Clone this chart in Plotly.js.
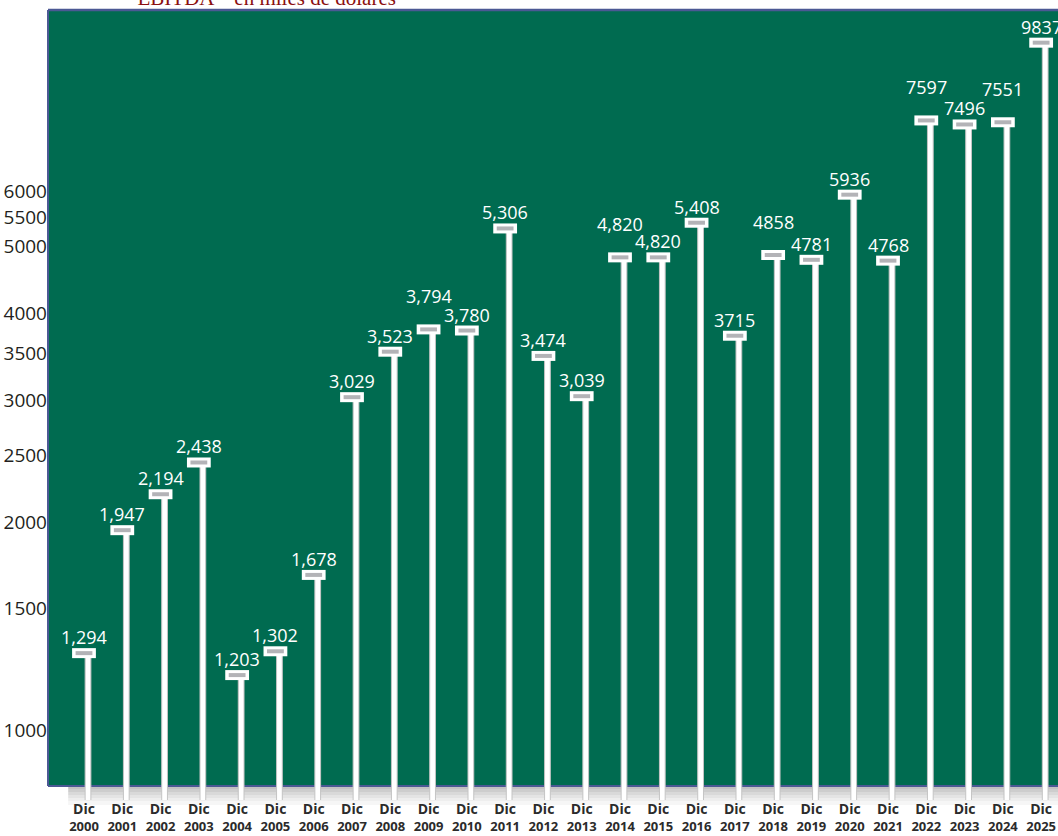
<!DOCTYPE html>
<html>
<head>
<meta charset="utf-8">
<script src="https://cdn.plot.ly/plotly-3.0.1.min.js"></script>
<style>
  html, body { margin: 0; padding: 0; background: #ffffff; }
  #chart { width: 1058px; height: 836px; }
</style>
</head>
<body>
<div id="chart"></div>
<script>
// ---- data ----
const categories = ['2000','2001','2002','2003','2004','2005','2006','2007','2008','2009',
                    '2010','2011','2012','2013','2014','2015','2016','2017','2018','2019',
                    '2020','2021','2022','2023','2024','2025'];
const monthLabel = 'Dic';
const ebitda = [1294, 1947, 2194, 2438, 1203, 1302, 1678, 3029, 3523, 3794,
                3780, 5306, 3474, 3039, 4820, 4820, 5408, 3715, 4858, 4781,
                5936, 4768, 7597, 7496, 7551, 9837];
const valueLabels = ['1,294','1,947','2,194','2,438','1,203','1,302','1,678','3,029','3,523','3,794',
                     '3,780','5,306','3,474','3,039','4,820','4,820','5,408','3715','4858','4781',
                     '5936','4768','7597','7496','7551','9837'];
const yTickVals = [1000, 1500, 2000, 2500, 3000, 3500, 4000, 5000, 5500, 6000];
const yTickText = ['1000','1500','2000','2500','3000','3500','4000','5000','5500','6000'];
const titleText = 'EBITDA – en miles de dólares';

const xTickText = categories.map(y =>
  '<b><span style="font-size:14px">' + monthLabel + '</span></b><br><b>' + y + '</b>');

// ---- styles ----
const GREEN = '#006b50';
const BORDER = '#4b5894';
const CAP_GRAY = '#b3b3b7';
const LABEL_GAP = 2;      // px between cap and its label
const LABEL_LIFT = 17;    // px extra lift for a label that would collide with a neighbour

const poles = {
  type: 'bar', x: categories, y: ebitda,
  width: 0.15, offset: 0.03,
  marker: { color: '#ffffff', line: { color: '#c4c4c4', width: 1 } },
  hoverinfo: 'skip', showlegend: false
};
const capsOuter = {
  type: 'scatter', mode: 'markers', x: categories, y: ebitda,
  marker: { symbol: 'line-ew', size: 17, color: '#ffffff', line: { color: '#ffffff', width: 10 } },
  cliponaxis: false, hoverinfo: 'skip', showlegend: false
};
const capsInner = {
  type: 'scatter', mode: 'markers', x: categories, y: ebitda,
  marker: { symbol: 'line-ew', size: 12, color: CAP_GRAY, line: { color: CAP_GRAY, width: 4 } },
  cliponaxis: false, hoverinfo: 'skip', showlegend: false
};

// value labels as annotations (category axis -> category index, log axis -> log10 of value);
// lift a label when its neighbour sits at nearly the same height
const close = (a, b) => b !== undefined && Math.abs(Math.log10(a) - Math.log10(b)) < 0.025;
const lifted = [];
ebitda.forEach((v, i) => {
  lifted[i] = !lifted[i - 1] && (close(v, ebitda[i - 1]) || close(v, ebitda[i + 1]));
});
const annotations = ebitda.map((v, i) => ({
  x: i, y: Math.log10(v), xref: 'x', yref: 'y',
  text: valueLabels[i], showarrow: false, xanchor: 'center', yanchor: 'bottom',
  yshift: LABEL_GAP + (lifted[i] ? LABEL_LIFT : 0),
  font: { family: 'Open Sans, sans-serif', size: 18, color: '#ffffff' }
}));

// plot area spans y 10..800 px; green panel ends at 786 px
const PLOT_H = 790;
const greenBottom = 14 / PLOT_H;
const px = n => n / PLOT_H;

const floorBands = [
  ['#c2c2c2', 0, 3], ['#cdcdcd', 3, 6], ['#d9d9d9', 6, 9],
  ['#e4e4e4', 9, 12], ['#eeeeee', 12, 15], ['#f6f6f6', 15, 19]
];
const shapes = [
  { type: 'rect', xref: 'paper', yref: 'paper', x0: 0, x1: 1, y0: greenBottom, y1: 1,
    fillcolor: GREEN, line: { width: 0 }, layer: 'below' }
];
floorBands.forEach(b => shapes.push({
  type: 'rect', xref: 'paper', yref: 'paper', x0: 0.02, x1: 1,
  y0: greenBottom - px(b[2]), y1: greenBottom - px(b[1]),
  fillcolor: b[0], line: { width: 0 }, layer: 'below'
}));
shapes.push(
  { type: 'line', xref: 'paper', yref: 'paper', x0: 0, x1: 1, y0: 1, y1: 1,
    line: { color: BORDER, width: 2.5 }, layer: 'below' },
  { type: 'line', xref: 'paper', yref: 'paper', x0: 0, x1: 1, y0: greenBottom, y1: greenBottom,
    line: { color: BORDER, width: 2 }, layer: 'below' },
  { type: 'line', xref: 'paper', yref: 'paper', x0: 0, x1: 0, y0: greenBottom, y1: 1,
    line: { color: BORDER, width: 2 }, layer: 'below' }
);

const layout = {
  width: 1058, height: 836,
  margin: { l: 48, r: 0, t: 10, b: 36, pad: 0 },
  paper_bgcolor: '#ffffff', plot_bgcolor: 'rgba(0,0,0,0)',
  showlegend: false, hovermode: false,
  title: {
    text: titleText, xref: 'container', x: 0.13, xanchor: 'left',
    yref: 'paper', y: 1, yanchor: 'bottom', pad: { b: 5, t: 0 },
    font: { family: 'Liberation Serif, serif', size: 21, color: '#8b0f0f' }
  },
  xaxis: {
    type: 'category', categoryorder: 'array', categoryarray: categories,
    range: [-0.94, 25.44],
    tickvals: categories, ticktext: xTickText, ticklabelstandoff: 0,
    tickfont: { family: 'Open Sans, sans-serif', size: 13, color: '#2b2b2b' },
    showgrid: false, zeroline: false, showline: false, ticks: '', fixedrange: true
  },
  yaxis: {
    type: 'log', range: [2.90, 4.04],
    tickvals: yTickVals, ticktext: yTickText,
    tickfont: { family: 'Open Sans, sans-serif', size: 19, color: '#231f20' },
    showgrid: false, zeroline: false, showline: false, ticks: '', fixedrange: true
  },
  shapes: shapes,
  annotations: annotations,
  bargap: 0
};

Plotly.newPlot('chart', [poles, capsOuter, capsInner], layout, { staticPlot: true, displayModeBar: false });
</script>
</body>
</html>
